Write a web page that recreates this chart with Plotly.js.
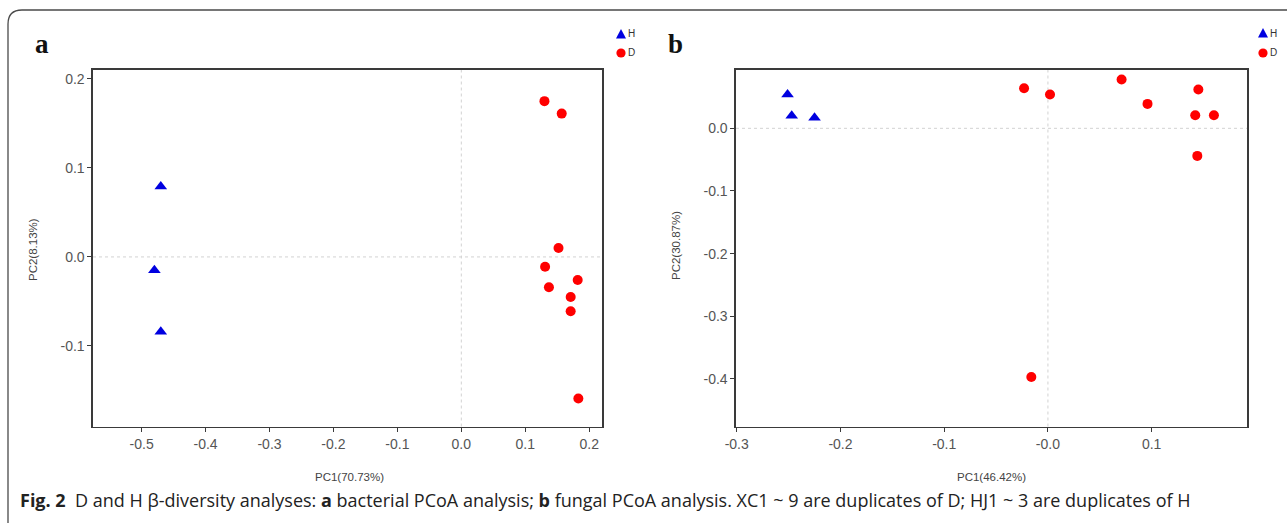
<!DOCTYPE html>
<html>
<head>
<meta charset="utf-8">
<script src="https://cdn.plot.ly/plotly-3.0.1.min.js"></script>
<style>html,body{margin:0;padding:0;background:#fff;}#chart{width:1287px;height:523px;}</style>
</head>
<body>
<div id="chart"></div>
<script>
// ---- Data ----
const groupNames = ["H", "D"];
// Panel a: bacterial PCoA
const aH_x = [-0.470, -0.480, -0.470];
const aH_y = [0.079, -0.015, -0.084];
const aD_x = [0.130, 0.157, 0.152, 0.131, 0.182, 0.137, 0.171, 0.171, 0.183];
const aD_y = [0.175, 0.161, 0.010, -0.011, -0.026, -0.034, -0.045, -0.061, -0.159];
// Panel b: fungal PCoA
const bH_x = [-0.251, -0.247, -0.225];
const bH_y = [0.054, 0.020, 0.017];
const bD_x = [-0.023, 0.002, 0.071, 0.096, 0.145, 0.142, 0.160, 0.144, -0.016];
const bD_y = [0.064, 0.054, 0.078, 0.039, 0.062, 0.021, 0.021, -0.044, -0.397];
// Tick labels
const aXticks = [-0.5, -0.4, -0.3, -0.2, -0.1, 0.0, 0.1, 0.2];
const aXtext = ["-0.5", "-0.4", "-0.3", "-0.2", "-0.1", "0.0", "0.1", "0.2"];
const aYticks = [0.2, 0.1, 0.0, -0.1];
const aYtext = ["0.2", "0.1", "0.0", "-0.1"];
const bXticks = [-0.3, -0.2, -0.1, 0.0, 0.1];
const bXtext = ["-0.3", "-0.2", "-0.1", "-0.0", "0.1"];
const bYticks = [0.0, -0.1, -0.2, -0.3, -0.4];
const bYtext = ["0.0", "-0.1", "-0.2", "-0.3", "-0.4"];
const titles = {aX: "PC1(70.73%)", aY: "PC2(8.13%)", bX: "PC1(46.42%)", bY: "PC2(30.87%)"};
const caption = "<b>Fig. 2</b>  D and H β-diversity analyses: <b>a</b> bacterial PCoA analysis; <b>b</b> fungal PCoA analysis. XC1 ~ 9 are duplicates of D; HJ1 ~ 3 are duplicates of H";

// ---- Layout helpers ----
const W = 1287, H = 523;
const px = v => v / W;
const py = v => 1 - v / H;
const blue = "#0000e0", red = "#ff0000";

const mk = (sym, col, s) => ({symbol: sym, size: s, color: col, line: {width: 0}});
const traces = [
  {x: aH_x, y: aH_y, xaxis: "x", yaxis: "y", mode: "markers", name: groupNames[0], marker: mk("triangle-up", blue, 11), showlegend: false},
  {x: aD_x, y: aD_y, xaxis: "x", yaxis: "y", mode: "markers", name: groupNames[1], marker: mk("circle", red, 10), showlegend: false},
  {x: bH_x, y: bH_y, xaxis: "x2", yaxis: "y2", mode: "markers", name: groupNames[0], marker: mk("triangle-up", blue, 11), showlegend: false},
  {x: bD_x, y: bD_y, xaxis: "x2", yaxis: "y2", mode: "markers", name: groupNames[1], marker: mk("circle", red, 10), showlegend: false}
];

const tickFont = {family: "Liberation Sans, Arial, sans-serif", size: 14, color: "#555"};
const axBase = {
  showgrid: false, zeroline: false, showline: true, mirror: true,
  linecolor: "#3a3a3a", linewidth: 1.6, ticks: "outside", ticklen: 4,
  tickcolor: "#3a3a3a", tickwidth: 1, tickfont: tickFont, tickmode: "array", fixedrange: true
};
const yTop = py(70), yBot = py(426.5);

const layout = {
  width: W, height: H,
  margin: {l: 0, r: 0, t: 0, b: 0},
  paper_bgcolor: "#fff", plot_bgcolor: "#fff",
  showlegend: false,
  xaxis: Object.assign({}, axBase, {domain: [px(93), px(602)], range: [-0.576, 0.220], tickvals: aXticks, ticktext: aXtext, anchor: "y"}),
  yaxis: Object.assign({}, axBase, {domain: [yBot, yTop], range: [-0.1905, 0.210], tickvals: aYticks, ticktext: aYtext, anchor: "x"}),
  xaxis2: Object.assign({}, axBase, {domain: [px(736), px(1247)], range: [-0.3007, 0.1919], tickvals: bXticks, ticktext: bXtext, anchor: "y2"}),
  yaxis2: Object.assign({}, axBase, {domain: [yBot, yTop], range: [-0.476, 0.0931], tickvals: bYticks, ticktext: bYtext, anchor: "x2"}),
  shapes: [],
  annotations: []
};

// dashed zero reference lines
const dash = {color: "#d2d2d2", width: 1, dash: "3px,3px"};
layout.shapes.push(
  {type: "line", xref: "x", yref: "y domain", x0: 0, x1: 0, y0: 0, y1: 1, line: dash, layer: "below"},
  {type: "line", xref: "x domain", yref: "y", x0: 0, x1: 1, y0: 0, y1: 0, line: dash, layer: "below"},
  {type: "line", xref: "x2", yref: "y2 domain", x0: 0, x1: 0, y0: 0, y1: 1, line: dash, layer: "below"},
  {type: "line", xref: "x2 domain", yref: "y2", x0: 0, x1: 1, y0: 0, y1: 0, line: dash, layer: "below"}
);

// outer rounded frame
const r = 14;
layout.shapes.push({
  type: "path", xref: "paper", yref: "paper",
  path: `M ${px(8)} ${py(523)} L ${px(8)} ${py(10 + r)} Q ${px(8)} ${py(10)} ${px(8 + r)} ${py(10)} L ${px(1287)} ${py(10)}`,
  line: {color: "#4a4a4a", width: 1.3}
});

// manual legends
function legendAt(x, yTri, yCir) {
  const tw = 5, th = 5;
  layout.shapes.push({
    type: "path", xref: "paper", yref: "paper",
    path: `M ${px(x - tw)} ${py(yTri + th - 0.5)} L ${px(x + tw)} ${py(yTri + th - 0.5)} L ${px(x)} ${py(yTri - th)} Z`,
    fillcolor: blue, line: {width: 0}
  });
  layout.shapes.push({
    type: "circle", xref: "paper", yref: "paper",
    x0: px(x - 4.6), x1: px(x + 4.6), y0: py(yCir + 4.6), y1: py(yCir - 4.6),
    fillcolor: red, line: {width: 0}
  });
  const lf = {family: "Liberation Sans, Arial, sans-serif", size: 10, color: "#333"};
  layout.annotations.push(
    {xref: "paper", yref: "paper", x: px(x + 5), y: py(yTri), text: groupNames[0], showarrow: false, xanchor: "left", yanchor: "middle", font: lf},
    {xref: "paper", yref: "paper", x: px(x + 5), y: py(yCir), text: groupNames[1], showarrow: false, xanchor: "left", yanchor: "middle", font: lf}
  );
}
legendAt(621, 34, 53);
legendAt(1263, 33, 53);

// axis titles & panel letters & caption
const titleFont = {family: "Liberation Sans, Arial, sans-serif", size: 11.5, color: "#444"};
layout.annotations.push(
  {xref: "paper", yref: "paper", x: px(349), y: py(477), text: titles.aX, showarrow: false, font: titleFont, xanchor: "center", yanchor: "middle"},
  {xref: "paper", yref: "paper", x: px(991.5), y: py(477), text: titles.bX, showarrow: false, font: titleFont, xanchor: "center", yanchor: "middle"},
  {xref: "paper", yref: "paper", x: px(33), y: py(250), text: titles.aY, showarrow: false, font: titleFont, textangle: -90, xanchor: "center", yanchor: "middle"},
  {xref: "paper", yref: "paper", x: px(676), y: py(246), text: titles.bY, showarrow: false, font: titleFont, textangle: -90, xanchor: "center", yanchor: "middle"},
  {xref: "paper", yref: "paper", x: px(33), y: py(44), text: "<b>a</b>", showarrow: false, font: {family: "Liberation Serif, Times New Roman, serif", size: 27, color: "#111"}, xanchor: "left", yanchor: "middle"},
  {xref: "paper", yref: "paper", x: px(666), y: py(44), text: "<b>b</b>", showarrow: false, font: {family: "Liberation Serif, Times New Roman, serif", size: 27, color: "#111"}, xanchor: "left", yanchor: "middle"},
  {xref: "paper", yref: "paper", x: px(18), y: py(500), text: caption, showarrow: false, font: {family: "Open Sans, Noto Sans, sans-serif", size: 18, color: "#222"}, xanchor: "left", yanchor: "middle"}
);

Plotly.newPlot("chart", traces, layout, {displayModeBar: false, staticPlot: true});
</script>
</body>
</html>
